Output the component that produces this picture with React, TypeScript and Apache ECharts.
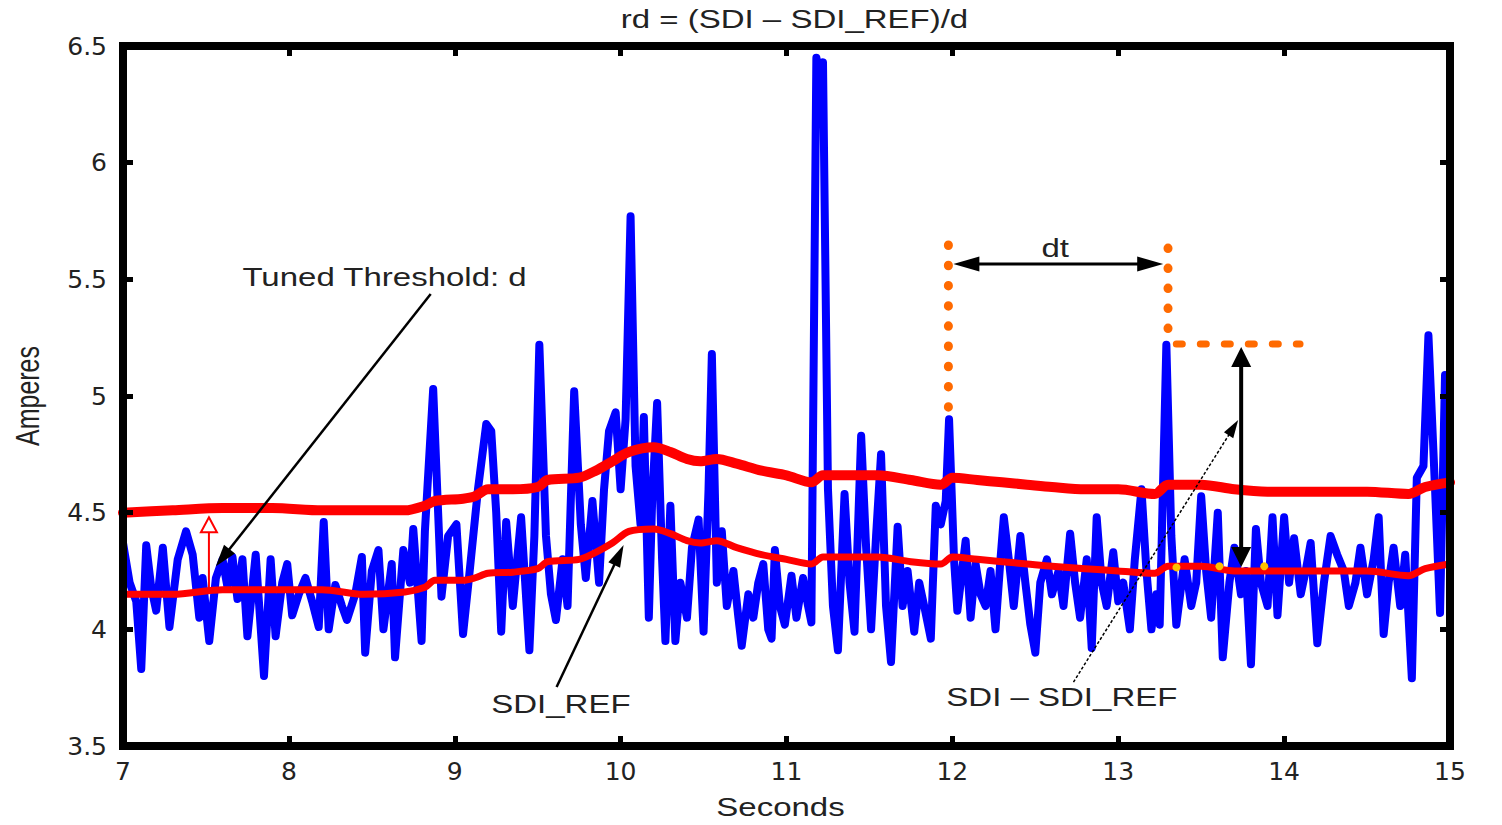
import React, { useEffect, useRef } from "react";
import * as echarts from "echarts";

// ---------- data ----------
const sdiTime = [
  7.0, 7.04, 7.08, 7.11, 7.14, 7.17, 7.2, 7.24, 7.28, 7.33, 7.38, 7.42, 7.46, 7.48, 7.52, 7.56, 7.6, 7.63, 7.66, 7.69,
  7.72, 7.75, 7.8, 7.85, 7.89, 7.92, 7.96, 7.99, 8.02, 8.06, 8.1, 8.14, 8.18, 8.21, 8.24, 8.28, 8.32, 8.35, 8.4, 8.44,
  8.46, 8.5, 8.54, 8.57, 8.62, 8.64, 8.69, 8.73, 8.75, 8.8, 8.82, 8.87, 8.92, 8.96, 9.01, 9.05, 9.09, 9.14, 9.19, 9.22,
  9.25, 9.28, 9.31, 9.35, 9.4, 9.45, 9.48, 9.51, 9.55, 9.58, 9.61, 9.65, 9.68, 9.72, 9.76, 9.79, 9.83, 9.87, 9.9, 9.93,
  9.97, 10.0, 10.03, 10.06, 10.09, 10.12, 10.14, 10.17, 10.19, 10.22, 10.25, 10.27, 10.3, 10.33, 10.36, 10.4, 10.43, 10.47, 10.5, 10.53,
  10.55, 10.58, 10.61, 10.64, 10.68, 10.71, 10.73, 10.77, 10.8, 10.83, 10.86, 10.89, 10.91, 10.93, 10.96, 10.99, 11.03, 11.06, 11.1, 11.13,
  11.15, 11.18, 11.2, 11.22, 11.25, 11.28, 11.31, 11.35, 11.38, 11.41, 11.45, 11.48, 11.51, 11.54, 11.57, 11.6, 11.63, 11.67, 11.7, 11.73,
  11.77, 11.8, 11.83, 11.87, 11.9, 11.93, 11.96, 11.98, 12.01, 12.03, 12.05, 12.08, 12.11, 12.14, 12.17, 12.2, 12.23, 12.26, 12.29, 12.31,
  12.34, 12.37, 12.41, 12.44, 12.47, 12.5, 12.53, 12.57, 12.6, 12.64, 12.67, 12.71, 12.74, 12.77, 12.81, 12.84, 12.87, 12.9, 12.93, 12.97,
  13.0, 13.03, 13.07, 13.1, 13.14, 13.17, 13.2, 13.23, 13.25, 13.29, 13.32, 13.35, 13.4, 13.44, 13.47, 13.5, 13.53, 13.56, 13.6, 13.63,
  13.67, 13.7, 13.74, 13.77, 13.8, 13.83, 13.86, 13.9, 13.93, 13.96, 14.0, 14.03, 14.06, 14.1, 14.13, 14.16, 14.2, 14.24, 14.28, 14.32,
  14.36, 14.39, 14.43, 14.46, 14.5, 14.54, 14.57, 14.6, 14.63, 14.66, 14.7, 14.73, 14.77, 14.8, 14.84, 14.87, 14.91, 14.94, 14.97, 15.0,
];
const sdiAmps = [
  4.37, 4.2, 4.12, 3.83, 4.36, 4.18, 4.08, 4.35, 4.01, 4.3, 4.42, 4.32, 4.05, 4.22, 3.95, 4.22, 4.3, 4.18, 4.31, 4.13,
  4.3, 3.97, 4.32, 3.8, 4.3, 3.97, 4.2, 4.28, 4.06, 4.15, 4.22, 4.12, 4.01, 4.46, 4.0, 4.19, 4.1, 4.04, 4.15, 4.31,
  3.9, 4.25, 4.34, 4.0, 4.28, 3.88, 4.34, 4.2, 4.43, 3.95, 4.42, 5.03, 4.14, 4.4, 4.45, 3.98, 4.25, 4.6, 4.88, 4.85,
  4.5, 3.99, 4.46, 4.1, 4.48, 3.91, 4.4, 5.22, 4.4, 4.15, 4.04, 4.3, 4.1, 5.02, 4.45, 4.22, 4.55, 4.2, 4.6, 4.85,
  4.93, 4.6, 4.9, 5.77, 4.7, 4.45, 4.91, 4.05, 4.55, 4.97, 4.3, 3.95, 4.53, 3.95, 4.2, 4.05, 4.35, 4.47, 3.99, 4.6,
  5.18, 4.2, 4.42, 4.1, 4.25, 4.05, 3.93, 4.15, 4.05, 4.2, 4.28, 4.0, 3.96, 4.34, 4.1, 4.02, 4.23, 4.05, 4.22, 4.1,
  4.03, 6.45, 6.38, 6.43, 4.6, 4.1, 3.91, 4.58, 4.2, 3.99, 4.83, 4.35, 4.0, 4.4, 4.75, 4.1, 3.86, 4.44, 4.1, 4.25,
  3.99, 4.2, 4.1, 3.96, 4.53, 4.45, 4.55, 4.9, 4.3, 4.08, 4.2, 4.38, 4.05, 4.28, 4.15, 4.1, 4.25, 4.0, 4.3, 4.48,
  4.3, 4.1, 4.4, 4.2, 4.02, 3.9, 4.2, 4.3, 4.15, 4.25, 4.1, 4.41, 4.2, 4.05, 4.3, 3.92, 4.48, 4.2, 4.1, 4.33,
  4.12, 4.2, 4.0, 4.3, 4.6, 4.25, 4.0, 4.15, 4.02, 5.22, 4.4, 4.02, 4.3, 4.1, 4.2, 4.57, 4.25, 4.05, 4.5, 3.88,
  4.2, 4.35, 4.15, 4.25, 3.85, 4.43, 4.2, 4.1, 4.48, 4.06, 4.48, 4.2, 4.39, 4.15, 4.25, 4.37, 3.94, 4.2, 4.4, 4.32,
  4.25, 4.1, 4.2, 4.35, 4.15, 4.3, 4.48, 3.98, 4.2, 4.35, 4.1, 4.32, 3.79, 4.65, 4.7, 5.26, 4.6, 4.07, 5.09, 4.95,
];

const refTime = [
  7.0, 7.3, 7.6, 7.9, 8.2, 8.45, 8.7, 8.82, 8.88, 9.05, 9.12, 9.2, 9.35, 9.5, 9.56, 9.75, 9.85, 9.95, 10.05, 10.2,
  10.3, 10.4, 10.48, 10.58, 10.7, 10.85, 11.0, 11.15, 11.22, 11.4, 11.55, 11.75, 11.93, 12.0, 12.15, 12.3, 12.45, 12.6, 12.8, 13.0,
  13.22, 13.3, 13.5, 13.7, 13.9, 14.2, 14.5, 14.75, 14.85, 15.0,
];
const sdiRef = [
  4.15, 4.15, 4.17, 4.17, 4.17, 4.15, 4.16, 4.18, 4.21, 4.21, 4.22, 4.24, 4.245, 4.26, 4.29, 4.3, 4.33, 4.37, 4.42, 4.43,
  4.41, 4.38, 4.37, 4.38, 4.35, 4.32, 4.3, 4.28, 4.31, 4.31, 4.31, 4.29, 4.28, 4.31, 4.3, 4.29, 4.28, 4.27, 4.26, 4.25,
  4.24, 4.27, 4.27, 4.25, 4.25, 4.25, 4.25, 4.23, 4.26, 4.28,
];
const threshold = [
  4.5, 4.51, 4.52, 4.52, 4.51, 4.51, 4.51, 4.53, 4.55, 4.56, 4.57, 4.6, 4.6, 4.61, 4.64, 4.65, 4.68, 4.72, 4.76, 4.78,
  4.76, 4.73, 4.72, 4.73, 4.71, 4.68, 4.66, 4.63, 4.66, 4.66, 4.66, 4.64, 4.62, 4.65, 4.64, 4.63, 4.62, 4.61, 4.6, 4.6,
  4.58, 4.62, 4.62, 4.6, 4.59, 4.59, 4.59, 4.58, 4.61, 4.63,
];

// annotation anchors, in data units (seconds, amperes)
const labelTexts = ["Tuned Threshold: d", "SDI_REF", "SDI \u2013 SDI_REF", "dt"];
const labelAt = [[7.72, 5.51], [9.64, 3.676], [12.66, 3.71], [12.62, 5.634]];
const labelAlign = ["left", "center", "center", "center"];
const arrowTuned = [[8.855, 5.437], [7.56, 4.27]];
const arrowRef = [[9.614, 3.753], [10.018, 4.361]];
const arrowDiff = [[12.73, 3.774], [13.723, 4.897]];
const arrowD = [[7.518, 4.169], [7.518, 4.48]];
const arrowRange = [[13.741, 4.267], [13.741, 5.21]];
const arrowDt = [[12.006, 5.566], [13.271, 5.566]];
const dotLine1 = [[11.976, 5.647], [11.976, 4.94]];
const dotLine2 = [[13.3, 5.634], [13.3, 5.261]];
const dashLine = [[13.35, 5.223], [14.096, 5.223]];
const yellowDotTime = [13.35, 13.61, 13.88];
const yellowDotAmps = [4.27, 4.27, 4.27];

const TITLE = "rd = (SDI \u2013 SDI_REF)/d";
const X_NAME = "Seconds";
const Y_NAME = "Amperes";

const TXT = "#222";
const FONT = "Liberation Sans, Arial, sans-serif";
const SX = 1.32;

function axisBase(extra: any) {
  return {
    type: "value",
    axisLine: { show: true, onZero: false, lineStyle: { color: "#000", width: 8, cap: "square" } },
    axisTick: { show: true, inside: true, length: 10, lineStyle: { color: "#000", width: 5 } },
    splitLine: { show: false },
    z: 10,
    ...extra,
  };
}

const labelStyle = { fontFamily: "DejaVu Sans", fontSize: 25, color: TXT };

export default function App() {
  const ref = useRef<HTMLDivElement>(null);
  useEffect(() => {
    const chart = echarts.init(ref.current!, null, { renderer: "svg" });
    const option: any = {
      animation: false,
      backgroundColor: "#fff",
      grid: { left: 123, right: 52, top: 46, bottom: 79, containLabel: false },
      xAxis: [
        axisBase({ min: 7, max: 15, interval: 1, position: "bottom",
          axisLabel: { ...labelStyle, margin: 13, showMinLabel: true, showMaxLabel: true } }),
        axisBase({ min: 7, max: 15, interval: 1, position: "top", axisLabel: { show: false } }),
      ],
      yAxis: [
        axisBase({ min: 3.5, max: 6.5, interval: 0.5, position: "left",
          axisLabel: { ...labelStyle, margin: 16, showMinLabel: true, showMaxLabel: true } }),
        axisBase({ min: 3.5, max: 6.5, interval: 0.5, position: "right", axisLabel: { show: false } }),
      ],
      series: [
        {
          name: "SDI", type: "line", xAxisIndex: 0, yAxisIndex: 0, showSymbol: false, z: 2,
          data: sdiTime.map((t, i) => [t, sdiAmps[i]]),
          lineStyle: { color: "#0000ff", width: 8, join: "round", cap: "round" },
        },
        {
          name: "Threshold", type: "line", showSymbol: false, z: 3, smooth: 0.3,
          data: refTime.map((t, i) => [t, threshold[i]]),
          lineStyle: { color: "#ff0000", width: 10, cap: "round", join: "round" },
        },
        {
          name: "SDI_REF", type: "line", showSymbol: false, z: 3, smooth: 0.3,
          data: refTime.map((t, i) => [t, sdiRef[i]]),
          lineStyle: { color: "#ff0000", width: 7, cap: "round", join: "round" },
        },
      ],
    };
    chart.setOption(option);

    const P = (p: number[]) => chart.convertToPixel({ seriesIndex: 0 }, p) as number[];
    const g: any[] = [];
    const Z = 100;

    const headPoly = (tip: number[], from: number[], len: number, wid: number, style: any) => {
      const dx = tip[0] - from[0], dy = tip[1] - from[1];
      const L = Math.hypot(dx, dy) || 1;
      const ux = dx / L, uy = dy / L;
      const bx = tip[0] - ux * len, by = tip[1] - uy * len;
      const px = -uy, py = ux;
      return {
        type: "polygon", z: Z,
        shape: { points: [[tip[0], tip[1]], [bx + (px * wid) / 2, by + (py * wid) / 2], [bx - (px * wid) / 2, by - (py * wid) / 2]] },
        style,
      };
    };
    const shorten = (tip: number[], from: number[], d: number) => {
      const dx = tip[0] - from[0], dy = tip[1] - from[1];
      const L = Math.hypot(dx, dy) || 1;
      return [tip[0] - (dx / L) * d, tip[1] - (dy / L) * d];
    };
    const arrow = (seg: number[][], o: any) => {
      const a = P(seg[0]), b = P(seg[1]);
      const b2 = shorten(b, a, o.len * 0.8);
      const a2 = o.double ? shorten(a, b, o.len * 0.8) : a;
      g.push({ type: "line", z: Z, shape: { x1: a2[0], y1: a2[1], x2: b2[0], y2: b2[1] },
        style: { stroke: o.color, lineWidth: o.width, lineDash: o.dash || null } });
      g.push(headPoly(b, a, o.len, o.wid, o.headStyle || { fill: o.color }));
      if (o.double) g.push(headPoly(a, b, o.len, o.wid, o.headStyle || { fill: o.color }));
    };

    arrow(arrowTuned, { color: "#000", width: 2.5, len: 22, wid: 14 });
    arrow(arrowRef, { color: "#000", width: 2.5, len: 22, wid: 13 });
    arrow(arrowDiff, { color: "#000", width: 1.5, len: 18, wid: 11, dash: [3, 2] });
    arrow(arrowRange, { color: "#000", width: 4, len: 20, wid: 20, double: true });
    arrow(arrowDt, { color: "#000", width: 3, len: 26, wid: 15, double: true });
    arrow(arrowD, { color: "#ff0000", width: 2, len: 15, wid: 16, headStyle: { fill: "#fff", stroke: "#ff0000", lineWidth: 2 } });

    const lineEl = (seg: number[][], style: any) => {
      const a = P(seg[0]), b = P(seg[1]);
      g.push({ type: "line", z: Z, shape: { x1: a[0], y1: a[1], x2: b[0], y2: b[1] }, style });
    };
    const orange = "#ff6a00";
    lineEl(dotLine1, { stroke: orange, lineWidth: 9, lineDash: [0.5, 19.7], lineCap: "round" });
    lineEl(dotLine2, { stroke: orange, lineWidth: 9, lineDash: [0.5, 19.5], lineCap: "round" });
    lineEl(dashLine, { stroke: orange, lineWidth: 7, lineDash: [6, 18], lineCap: "round" });

    yellowDotTime.forEach((t, i) => {
      const c = P([t, yellowDotAmps[i]]);
      g.push({ type: "circle", z: Z, shape: { cx: c[0], cy: c[1], r: 4 }, style: { fill: "#ffc000" } });
    });

    labelTexts.forEach((txt, i) => {
      const c = P(labelAt[i]);
      g.push({
        type: "text", z: Z, x: c[0], y: c[1], scaleX: SX,
        style: { text: txt, fontFamily: FONT, fontSize: 25, fill: TXT, align: labelAlign[i], verticalAlign: "middle" },
      });
    });

    // title and axis names (layout text, outside the plot)
    const tl = P([7, 6.5]), br = P([15, 3.5]);
    g.push({ type: "text", z: Z, x: (tl[0] + br[0]) / 2 + 8, y: tl[1] - 27, scaleX: SX,
      style: { text: TITLE, fontFamily: FONT, fontSize: 25, fill: TXT, align: "center", verticalAlign: "middle" } });
    g.push({ type: "text", z: Z, x: (tl[0] + br[0]) / 2 - 6, y: br[1] + 49, scaleX: SX,
      style: { text: X_NAME, fontFamily: FONT, fontSize: 25, fill: TXT, align: "center", verticalAlign: "top" } });
    g.push({ type: "text", z: Z, x: 28, y: (tl[1] + br[1]) / 2, rotation: Math.PI / 2, scaleY: SX,
      style: { text: Y_NAME, fontFamily: FONT, fontSize: 25, fill: TXT, align: "center", verticalAlign: "middle" } });

    chart.setOption({ graphic: { elements: g } });
    return () => chart.dispose();
  }, []);
  return (
    <div
      ref={ref}
      style={{ position: "fixed", left: 0, top: 0, width: 1502, height: 825, background: "#fff" }}
    />
  );
}
